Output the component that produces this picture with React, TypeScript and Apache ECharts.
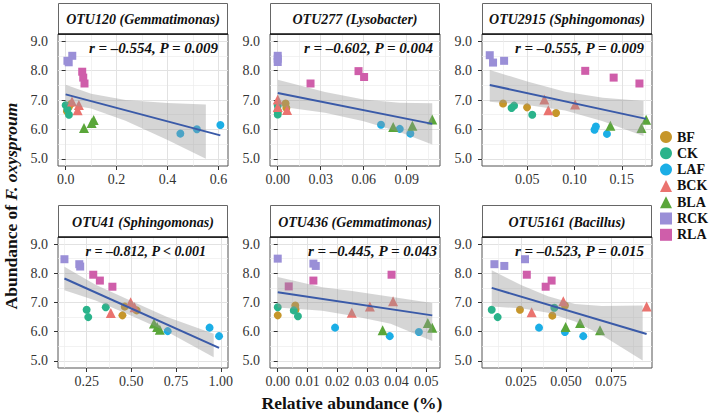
import React, { useEffect, useRef } from "react";
import * as echarts from "echarts";

const SERIF = "Liberation Serif";

const GROUPS = ["BF", "CK", "LAF", "BCK", "BLA", "RCK", "RLA"];
const GROUP_COLORS = ["#C6962A", "#2AB38B", "#1BAEE6", "#EA736F", "#5AA63A", "#9A8FD7", "#CF5EAA"];
const GROUP_SYMBOLS = ["circle", "circle", "circle", "triangle", "triangle", "rect", "rect"];
const GROUP_SIZES = [8, 8, 8, 10, 10, 8, 8];

const Y_TICKS = [5, 6, 7, 8, 9];
const Y_MINOR = [5.5, 6.5, 7.5, 8.5];
const Y_RANGE = [4.76, 9.24];

// ---------- OTU120 ----------
const otu120Title = "OTU120 (Gemmatimonas)";
const otu120Stat = "r = –0.554, P = 0.009";
const otu120Points: Record<string, number[][]> = {
  BF: [[0.005, 6.62], [0.012, 6.75], [0.02, 6.86]],
  CK: [[0.0, 6.82], [0.007, 6.68], [0.013, 6.5]],
  LAF: [[0.45, 5.86], [0.515, 6.01], [0.607, 6.15]],
  BCK: [[0.025, 6.95], [0.052, 6.83], [0.047, 6.65]],
  BLA: [[0.072, 6.05], [0.102, 6.22], [0.11, 6.32]],
  RCK: [[0.007, 8.33], [0.012, 8.28], [0.026, 8.5]],
  RLA: [[0.065, 7.96], [0.069, 7.76], [0.074, 7.56]],
};
const otu120LineX = [0, 0.607];
const otu120LineY = [7.19, 5.8];
const otu120BandX = [0, 0.1, 0.235, 0.4, 0.55];
const otu120BandLo = [6.86, 6.71, 6.3, 5.64, 5.01];
const otu120BandHi = [7.52, 7.21, 7.0, 6.9, 6.85];
const otu120XRange = [-0.03, 0.637];
const otu120XTicks = [0, 0.2, 0.4, 0.6];
const otu120XMinor = [0.1, 0.3, 0.5];

// ---------- OTU277 ----------
const otu277Title = "OTU277 (Lysobacter)";
const otu277Stat = "r = –0.602, P = 0.004";
const otu277Points: Record<string, number[][]> = {
  BF: [[0.0055, 6.88], [0.006, 6.73], [0.0, 6.58]],
  CK: [[0, 6.81], [0, 6.64], [0, 6.51]],
  LAF: [[0.0721, 6.16], [0.0852, 6.02], [0.0926, 5.86]],
  BCK: [[0, 7.02], [0, 6.76], [0.0065, 6.66]],
  BLA: [[0.0806, 6.08], [0.094, 6.13], [0.1079, 6.34]],
  RCK: [[0, 8.5], [0, 8.4], [0, 8.29]],
  RLA: [[0.0229, 7.56], [0.0564, 7.98], [0.0603, 7.78]],
};
const otu277LineX = [0, 0.1079];
const otu277LineY = [7.24, 6.19];
const otu277BandX = [0, 0.033, 0.06, 0.085, 0.1079];
const otu277BandLo = [6.79, 6.57, 6.28, 5.91, 5.49];
const otu277BandHi = [7.69, 7.27, 7.02, 6.91, 6.89];
const otu277XRange = [-0.0054, 0.1133];
const otu277XTicks = [0, 0.03, 0.06, 0.09];
const otu277XMinor = [0.015, 0.045, 0.075, 0.105];

// ---------- OTU2915 ----------
const otu2915Title = "OTU2915 (Sphingomonas)";
const otu2915Stat = "r = –0.555, P = 0.009";
const otu2915Points: Record<string, number[][]> = {
  BF: [[0.0243, 6.88], [0.0497, 6.75], [0.0804, 6.56]],
  CK: [[0.0333, 6.73], [0.036, 6.81], [0.0552, 6.5]],
  LAF: [[0.1226, 6.1], [0.1211, 5.99], [0.1343, 5.85]],
  BCK: [[0.068, 7.02], [0.0722, 6.65], [0.1006, 6.85]],
  BLA: [[0.1379, 6.13], [0.1708, 6.05], [0.1758, 6.33]],
  RCK: [[0.0102, 8.52], [0.0137, 8.27], [0.0254, 8.33]],
  RLA: [[0.1113, 7.99], [0.1414, 7.76], [0.1687, 7.56]],
};
const otu2915LineX = [0.0102, 0.1758];
const otu2915LineY = [7.51, 6.36];
const otu2915BandX = [0.0102, 0.05, 0.09, 0.13, 0.173];
const otu2915BandLo = [6.94, 6.83, 6.64, 6.28, 5.78];
const otu2915BandHi = [8.02, 7.63, 7.28, 7.08, 6.97];
const otu2915XRange = [0.002, 0.182];
const otu2915XTicks = [0.05, 0.1, 0.15];
const otu2915XMinor = [0.025, 0.075, 0.125, 0.175];

// ---------- OTU41 ----------
const otu41Title = "OTU41 (Sphingomonas)";
const otu41Stat = "r = –0.812, P < 0.001";
const otu41Points: Record<string, number[][]> = {
  BF: [[0.45, 6.56], [0.463, 6.86], [0.53, 6.73]],
  CK: [[0.25, 6.75], [0.259, 6.5], [0.357, 6.84]],
  LAF: [[0.703, 6.02], [0.937, 6.14], [0.99, 5.85]],
  BCK: [[0.385, 6.64], [0.496, 7.01], [0.518, 6.84]],
  BLA: [[0.626, 6.28], [0.644, 6.16], [0.659, 6.07]],
  RCK: [[0.126, 8.48], [0.209, 8.31], [0.214, 8.23]],
  RLA: [[0.287, 7.95], [0.324, 7.75], [0.394, 7.54]],
};
const otu41LineX = [0.126, 0.99];
const otu41LineY = [7.82, 5.45];
const otu41BandX = [0.126, 0.3, 0.5, 0.7, 0.96];
const otu41BandLo = [7.42, 7.07, 6.55, 6.0, 5.13];
const otu41BandHi = [8.22, 7.61, 7.05, 6.5, 5.93];
const otu41XRange = [0.09, 1.04];
const otu41XTicks = [0.25, 0.5, 0.75, 1.0];
const otu41XMinor = [0.125, 0.375, 0.625, 0.875];

// ---------- OTU436 ----------
const otu436Title = "OTU436 (Gemmatimonas)";
const otu436Stat = "r = –0.445, P = 0.043";
const otu436Points: Record<string, number[][]> = {
  BF: [[0, 6.56], [0.0059, 6.9], [0.006, 6.76]],
  CK: [[0, 6.84], [0.0054, 6.73], [0.0068, 6.53]],
  LAF: [[0.0193, 6.14], [0.0377, 5.85], [0.0475, 5.99]],
  BCK: [[0.0249, 6.65], [0.031, 6.86], [0.0388, 7.04]],
  BLA: [[0.0353, 6.05], [0.0505, 6.3], [0.052, 6.14]],
  RCK: [[0, 8.5], [0.012, 8.33], [0.0128, 8.25]],
  RLA: [[0.0037, 7.55], [0.012, 7.75], [0.0383, 7.95]],
};
const otu436LineX = [0, 0.052];
const otu436LineY = [7.35, 6.56];
const otu436BandX = [0, 0.015, 0.025, 0.038, 0.052];
const otu436BandLo = [6.83, 6.72, 6.55, 6.27, 5.68];
const otu436BandHi = [7.87, 7.52, 7.39, 7.2, 6.98];
const otu436XRange = [-0.0026, 0.0546];
const otu436XTicks = [0, 0.01, 0.02, 0.03, 0.04, 0.05];
const otu436XMinor = [0.005, 0.015, 0.025, 0.035, 0.045];

// ---------- OTU5161 ----------
const otu5161Title = "OTU5161 (Bacillus)";
const otu5161Stat = "r = –0.523, P = 0.015";
const otu5161Points: Record<string, number[][]> = {
  BF: [[0.0244, 6.75], [0.0424, 6.55], [0.0494, 6.9]],
  CK: [[0.0087, 6.75], [0.012, 6.5], [0.0435, 6.82]],
  LAF: [[0.035, 6.14], [0.0494, 5.99], [0.0596, 5.85]],
  BCK: [[0.0309, 6.67], [0.0485, 7.04], [0.0948, 6.86]],
  BLA: [[0.0498, 6.16], [0.0578, 6.3], [0.0689, 6.05]],
  RCK: [[0.0102, 8.31], [0.0157, 8.25], [0.0272, 8.48]],
  RLA: [[0.0282, 7.95], [0.0387, 7.54], [0.042, 7.75]],
};
const otu5161LineX = [0.0087, 0.0948];
const otu5161LineY = [7.5, 5.92];
const otu5161BandX = [0.0087, 0.025, 0.04, 0.055, 0.07, 0.0926];
const otu5161BandLo = [6.86, 6.8, 6.65, 6.35, 5.88, 5.02];
const otu5161BandHi = [8.1, 7.6, 7.21, 6.95, 6.88, 6.9];
const otu5161XRange = [0.0033, 0.0978];
const otu5161XTicks = [0.025, 0.05, 0.075];
const otu5161XMinor = [0.0125, 0.0375, 0.0625, 0.0875];

const panels = [
  { title: otu120Title, stat: otu120Stat, points: otu120Points, lineX: otu120LineX, lineY: otu120LineY, bandX: otu120BandX, bandLo: otu120BandLo, bandHi: otu120BandHi, xRange: otu120XRange, xTicks: otu120XTicks, xMinor: otu120XMinor, digits: 1 },
  { title: otu277Title, stat: otu277Stat, points: otu277Points, lineX: otu277LineX, lineY: otu277LineY, bandX: otu277BandX, bandLo: otu277BandLo, bandHi: otu277BandHi, xRange: otu277XRange, xTicks: otu277XTicks, xMinor: otu277XMinor, digits: 2 },
  { title: otu2915Title, stat: otu2915Stat, points: otu2915Points, lineX: otu2915LineX, lineY: otu2915LineY, bandX: otu2915BandX, bandLo: otu2915BandLo, bandHi: otu2915BandHi, xRange: otu2915XRange, xTicks: otu2915XTicks, xMinor: otu2915XMinor, digits: 2 },
  { title: otu41Title, stat: otu41Stat, points: otu41Points, lineX: otu41LineX, lineY: otu41LineY, bandX: otu41BandX, bandLo: otu41BandLo, bandHi: otu41BandHi, xRange: otu41XRange, xTicks: otu41XTicks, xMinor: otu41XMinor, digits: 2 },
  { title: otu436Title, stat: otu436Stat, points: otu436Points, lineX: otu436LineX, lineY: otu436LineY, bandX: otu436BandX, bandLo: otu436BandLo, bandHi: otu436BandHi, xRange: otu436XRange, xTicks: otu436XTicks, xMinor: otu436XMinor, digits: 2 },
  { title: otu5161Title, stat: otu5161Stat, points: otu5161Points, lineX: otu5161LineX, lineY: otu5161LineY, bandX: otu5161BandX, bandLo: otu5161BandLo, bandHi: otu5161BandHi, xRange: otu5161XRange, xTicks: otu5161XTicks, xMinor: otu5161XMinor, digits: 3 },
];

// ---------- layout ----------
const COL_LEFT = [58, 270, 482];
const PANEL_W = 170;
const STRIP_TOP = [3, 205];
const ROW_TOP = [34, 237];
const ROW_H = [132, 131];
const STAT_RIGHT = [218, 433, 644, 206, 437, 644];
const STAT_Y = [48, 251];
const STAT_SIZE = [15, 15, 15, 14, 15, 15];

function buildOption() {
  const grid: any[] = [];
  const xAxis: any[] = [];
  const yAxis: any[] = [];
  const series: any[] = [];
  const graphic: any[] = [];

  panels.forEach((p, i) => {
    const r = Math.floor(i / 3);
    const c = i % 3;
    const left = COL_LEFT[c];
    grid.push({
      left,
      top: ROW_TOP[r],
      width: PANEL_W,
      height: ROW_H[r],
      show: true,
      borderColor: "#555",
      borderWidth: 1,
      backgroundColor: "#fff",
      containLabel: false,
      outerBoundsMode: "none",
    });
    const labelStyle = { fontFamily: SERIF, fontSize: 14, color: "#333" };
    xAxis.push({
      gridIndex: i,
      type: "value",
      min: p.xRange[0],
      max: p.xRange[1],
      axisLine: { show: false },
      axisTick: { show: true, customValues: p.xTicks, length: 4, lineStyle: { color: "#333" } },
      axisLabel: {
        ...labelStyle,
        customValues: p.xTicks,
        margin: 6,
        hideOverlap: false,
        formatter: (v: number) => Number(v).toFixed(p.digits),
      },
      splitLine: { show: true, lineStyle: { color: "#E2E2E2", width: 1 } },
    });
    xAxis.push({
      gridIndex: i,
      type: "value",
      min: p.xRange[0],
      max: p.xRange[1],
      axisLine: { show: false },
      axisTick: { show: false, customValues: p.xMinor },
      axisLabel: { show: false },
      splitLine: { show: true, lineStyle: { color: "#EDEDED", width: 0.7 } },
    });
    yAxis.push({
      gridIndex: i,
      type: "value",
      min: Y_RANGE[0],
      max: Y_RANGE[1],
      axisLine: { show: false },
      axisTick: { show: true, customValues: Y_TICKS, length: 4, lineStyle: { color: "#333" } },
      axisLabel: {
        ...labelStyle,
        customValues: Y_TICKS,
        margin: 10,
        formatter: (v: number) => Number(v).toFixed(1),
      },
      splitLine: { show: true, lineStyle: { color: "#E2E2E2", width: 1 } },
    });
    yAxis.push({
      gridIndex: i,
      type: "value",
      min: Y_RANGE[0],
      max: Y_RANGE[1],
      axisLine: { show: false },
      axisTick: { show: false, customValues: Y_MINOR },
      axisLabel: { show: false },
      splitLine: { show: true, lineStyle: { color: "#EDEDED", width: 0.7 } },
    });

    const xi = 2 * i;
    GROUPS.forEach((g, k) => {
      series.push({
        name: g,
        type: "scatter",
        xAxisIndex: xi,
        yAxisIndex: xi,
        symbol: GROUP_SYMBOLS[k],
        symbolSize: GROUP_SIZES[k],
        itemStyle: { color: GROUP_COLORS[k], opacity: 1 },
        data: p.points[g],
        z: 2,
        silent: true,
      });
    });
    series.push({
      type: "custom",
      xAxisIndex: xi,
      yAxisIndex: xi,
      z: 3,
      silent: true,
      data: p.bandX.map((x, k) => [x, p.bandLo[k], p.bandHi[k]]),
      encode: { x: 0, y: [1, 2] },
      renderItem: (params: any, api: any) => {
        if (params.dataIndex !== 0) return null;
        const up = p.bandX.map((x, k) => api.coord([x, p.bandHi[k]]));
        const lo = p.bandX.map((x, k) => api.coord([x, p.bandLo[k]])).reverse();
        return {
          type: "polygon",
          shape: { points: up.concat(lo) },
          style: { fill: "rgba(150,150,150,0.4)" },
        };
      },
    });
    series.push({
      type: "line",
      xAxisIndex: xi,
      yAxisIndex: xi,
      z: 4,
      silent: true,
      showSymbol: false,
      symbol: "none",
      lineStyle: { color: "#3A5AA8", width: 2 },
      data: p.lineX.map((x, k) => [x, p.lineY[k]]),
    });

    // strip
    graphic.push({
      type: "rect",
      z: 50,
      shape: { x: left + 0.5, y: STRIP_TOP[r] + 0.5, width: PANEL_W - 1, height: ROW_TOP[r] - STRIP_TOP[r] },
      style: { fill: "#fff", stroke: "#666", lineWidth: 1 },
    });
    graphic.push({
      type: "line",
      z: 51,
      shape: { x1: left, y1: ROW_TOP[r], x2: left + PANEL_W, y2: ROW_TOP[r] },
      style: { stroke: "#111", lineWidth: 1.5 },
    });
    graphic.push({
      type: "text",
      z: 52,
      x: left + PANEL_W / 2,
      y: (STRIP_TOP[r] + ROW_TOP[r]) / 2 + 1,
      style: {
        text: p.title,
        fontFamily: SERIF,
        fontWeight: "bold",
        fontStyle: "italic",
        fontSize: 14,
        fill: "#111",
        align: "center",
        verticalAlign: "middle",
      },
    });
    graphic.push({
      type: "text",
      z: 52,
      x: STAT_RIGHT[i],
      y: STAT_Y[r],
      style: {
        text: p.stat,
        fontFamily: SERIF,
        fontWeight: "bold",
        fontStyle: "italic",
        fontSize: STAT_SIZE[i],
        fill: "#111",
        align: "right",
        verticalAlign: "middle",
      },
    });
  });

  graphic.push({
    type: "text",
    z: 52,
    x: 11,
    y: 206,
    rotation: Math.PI / 2,
    style: {
      text: "{a|Abundance of }{b|F. oxysproum}",
      align: "center",
      verticalAlign: "middle",
      rich: {
        a: { fontFamily: SERIF, fontWeight: "bold", fontSize: 17.5, fill: "#111" },
        b: { fontFamily: SERIF, fontWeight: "bold", fontStyle: "italic", fontSize: 17.5, fill: "#111" },
      },
    },
  });
  graphic.push({
    type: "text",
    z: 52,
    x: 352,
    y: 403,
    style: {
      text: "Relative abundance (%)",
      fontFamily: SERIF,
      fontWeight: "bold",
      fontSize: 17.5,
      fill: "#111",
      align: "center",
      verticalAlign: "middle",
    },
  });

  return {
    animation: false,
    backgroundColor: "#fff",
    textStyle: { fontFamily: SERIF },
    grid,
    xAxis,
    yAxis,
    series,
    graphic,
    legend: {
      orient: "vertical",
      left: 660,
      top: 130,
      itemWidth: 12,
      itemHeight: 12,
      itemGap: 2.3,
      padding: 0,
      selectedMode: false,
      textStyle: { fontFamily: SERIF, fontWeight: "bold", fontSize: 14, color: "#111" },
      data: GROUPS.map((g, k) => ({ name: g, icon: GROUP_SYMBOLS[k] })),
    },
  };
}

export default function App() {
  const ref = useRef<HTMLDivElement>(null);
  useEffect(() => {
    if (!ref.current) return;
    const chart = echarts.init(ref.current, null, { renderer: "svg" });
    chart.setOption(buildOption() as any);
    return () => chart.dispose();
  }, []);
  return (
    <div
      ref={ref}
      style={{ position: "fixed", left: 0, top: 0, width: 709, height: 414 }}
    />
  );
}
